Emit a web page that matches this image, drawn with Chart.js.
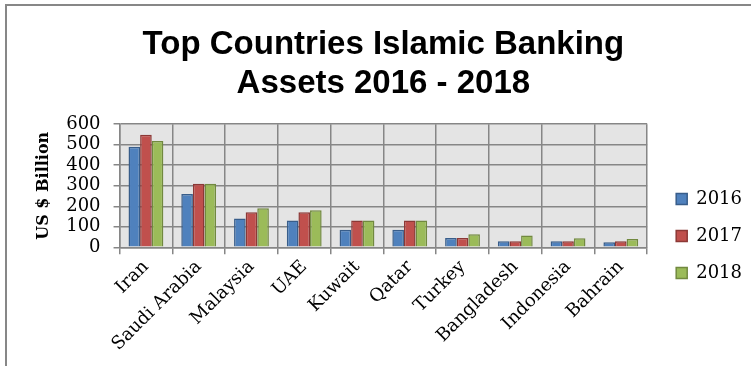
<!DOCTYPE html>
<html>
<head>
<meta charset="utf-8">
<script src="https://cdn.jsdelivr.net/npm/chart.js@4.4.1/dist/chart.umd.min.js"></script>
<style>
  html, body { margin: 0; padding: 0; background: #fff; overflow: hidden; }
  body { width: 751px; height: 366px; position: relative; }
  #frame {
    position: absolute; left: 5px; top: 4px; width: 770px; height: 480px;
    border-left: 2px solid #878787; border-top: 2px solid #878787;
  }
  #chart { position: absolute; left: 7px; top: 6px; }
</style>
</head>
<body>
<div id="frame"></div>
<canvas id="chart" width="756" height="468" style="width:756px;height:468px"></canvas>
<script>
// Top countries, Islamic banking assets (US $ billion)
const countries = ['Iran', 'Saudi Arabia', 'Malaysia', 'UAE', 'Kuwait', 'Qatar', 'Turkey', 'Bangladesh', 'Indonesia', 'Bahrain'];
const years = ['2016', '2017', '2018'];
const assets2016 = [490, 260, 140, 130, 86, 86, 45, 29, 29, 24];
const assets2017 = [548, 310, 171, 171, 130, 131, 45, 29, 29, 29];
const assets2018 = [518, 310, 190, 180, 130, 130, 63, 58, 44, 40];
const yTicks = [0, 100, 200, 300, 400, 500, 600];
const titleLines = ['Top Countries Islamic Banking', 'Assets 2016 - 2018'];

const fills = ['#4f81bd', '#c0504d', '#9bbb59'];
const edges = ['#385d8a', '#8c3836', '#71893f'];
const gridGray = '#868686';
const serif = "'DejaVu Serif', 'Liberation Serif', serif";

// grey plot area like the office chart
const plotBackground = {
  id: 'plotBackground',
  beforeDraw(chart) {
    const { ctx, chartArea: a } = chart;
    ctx.save();
    ctx.fillStyle = '#e4e4e4';
    ctx.fillRect(a.left, a.top, a.width, a.height);
    ctx.restore();
  }
};

const series = [assets2016, assets2017, assets2018];

new Chart(document.getElementById('chart'), {
  type: 'bar',
  data: {
    labels: countries,
    datasets: series.map((values, i) => ({
      label: years[i],
      data: values,
      backgroundColor: fills[i],
      borderColor: edges[i],
      borderWidth: 1.5,
      categoryPercentage: 0.66,
      barPercentage: 1.0
    }))
  },
  options: {
    responsive: false,
    animation: false,
    layout: { padding: { left: 22, right: 11, top: 0, bottom: 8 } },
    plugins: {
      title: {
        display: true,
        fullSize: false,
        text: titleLines,
        color: '#000',
        font: { family: "'Liberation Sans', Arial, sans-serif", size: 33, weight: 'bold', lineHeight: 1.2 },
        padding: { top: 19, bottom: 20 }
      },
      legend: {
        position: 'right',
        labels: {
          boxWidth: 11,
          boxHeight: 11,
          padding: 19,
          color: '#000',
          font: { family: serif, size: 18 }
        }
      },
      tooltip: { enabled: false }
    },
    scales: {
      x: {
        grid: { color: gridGray, lineWidth: 1.5, tickLength: 7, offset: true },
        border: { color: gridGray, width: 1.5 },
        ticks: {
          color: '#000',
          font: { family: serif, size: 18 },
          minRotation: 45,
          maxRotation: 45,
          autoSkip: false,
          padding: 2
        }
      },
      y: {
        min: 0,
        max: 600,
        afterBuildTicks: s => { s.ticks = yTicks.map(v => ({ value: v })); },
        grid: { color: gridGray, lineWidth: 1.5, tickLength: 6 },
        border: { color: gridGray, width: 1.5 },
        ticks: { color: '#000', font: { family: serif, size: 18 }, padding: 13, autoSkip: false },
        title: {
          display: true,
          text: 'US $ Billion',
          color: '#000',
          font: { family: serif, size: 16, weight: 'bold' },
          padding: { top: 5, bottom: 0 }
        }
      },
      // empty axes, they only hold space: gap before the legend, room under the labels
      gap: {
        type: 'linear',
        position: 'right',
        display: true,
        grid: { display: false },
        ticks: { display: false },
        border: { display: false },
        afterFit: s => { s.width = 10; }
      },
      below: {
        type: 'linear',
        axis: 'x',
        position: 'bottom',
        weight: 10,
        display: true,
        grid: { display: false },
        ticks: { display: false },
        border: { display: false },
        afterFit: s => { s.height = 109; }
      }
    }
  },
  plugins: [plotBackground]
});
</script>
</body>
</html>
